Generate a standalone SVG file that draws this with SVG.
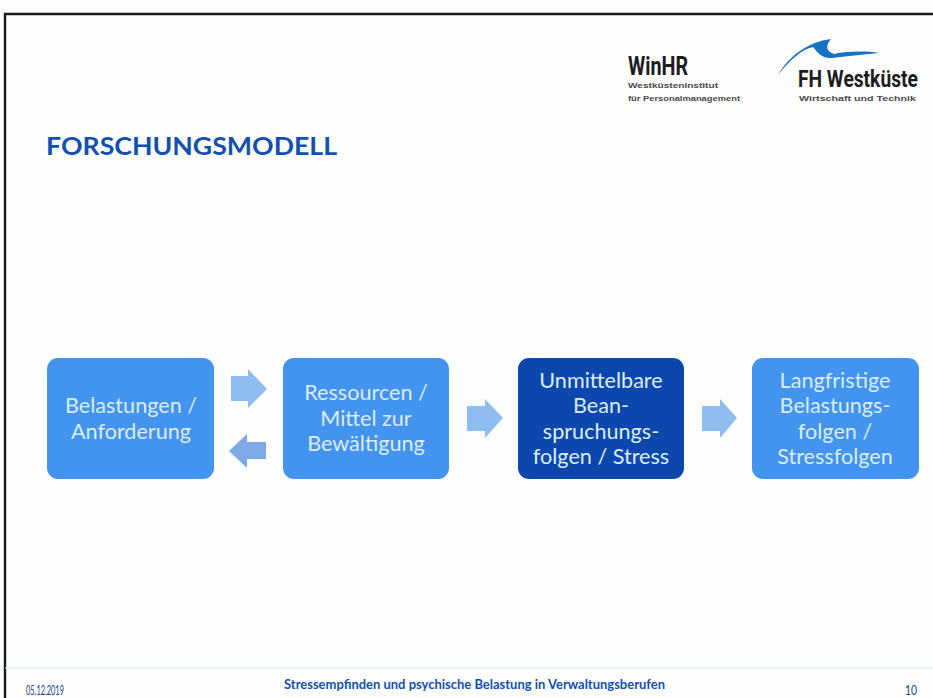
<svg xmlns="http://www.w3.org/2000/svg" width="933" height="698" viewBox="0 0 933 698">
<style>
.b{fill:#4394ee}
.d{fill:#0b47ad}
.t{font-family:Lato,"Open Sans",sans-serif;font-size:21.6px;fill:#dcecfb;text-anchor:middle}
.a{fill:#8fbcef}
.s{font-family:"Liberation Sans",sans-serif;font-size:7.4px;font-weight:700;fill:#4a4a4a}
.l{font-family:Roboto,sans-serif;font-weight:700;fill:#1c1c1c}
.f{font-family:Lato,sans-serif;font-size:12.5px;fill:#12458f}
</style>
<rect width="933" height="698" fill="#fdfdfd"/>
<path d="M5 698V14H933" fill="none" stroke="#1a1a1a" stroke-width="2.4"/>
<g id="logos">
<text class="l" x="628" y="75" font-size="26" textLength="60" lengthAdjust="spacingAndGlyphs">WinHR</text>
<text class="s" x="628" y="88" textLength="90" lengthAdjust="spacingAndGlyphs">Westküsteninstitut</text>
<text class="s" x="628" y="101" textLength="112" lengthAdjust="spacingAndGlyphs">für Personalmanagement</text>
<path d="M778 75C790 55 808 42 831 39C825 46 826 51 834 54C848 51 866 51 879 53C862 55 846 56 832 58C822 59 817 52 813 47C802 49 790 60 778 75Z" fill="#1572c4"/>
<text class="l" transform="translate(798 87) scale(.875 1)" font-size="24" textLength="137" lengthAdjust="spacingAndGlyphs">FH Westküste</text>
<text class="s" x="799" y="101" textLength="117" lengthAdjust="spacingAndGlyphs">Wirtschaft und Technik</text>
</g>
<text id="title" x="46" y="155" font-family="Lato,sans-serif" font-weight="700" font-size="25" fill="#1150b0" textLength="291" lengthAdjust="spacingAndGlyphs">FORSCHUNGSMODELL</text>
<g id="connectors">
<path class="a" d="M231 376H248V369L267 389L248 408V401H231Z"/>
<path d="M266 442H247V434L229 451L247 468V459H266Z" fill="#7ea9e6"/>
<path class="a" d="M467 406H485V399L503 418L485 438V431H467Z"/>
<path class="a" d="M702 406H720V399L737 418L720 438V431H702Z"/>
</g>
<g id="n1"><rect class="b" x="47" y="358" width="167" height="121" rx="11"/>
<text class="t" x="131" y="413">Belastungen /</text><text class="t" x="131" y="439">Anforderung</text></g>
<g id="n2"><rect class="b" x="283" y="358" width="166" height="121" rx="11"/>
<text class="t" x="366" y="400">Ressourcen /</text><text class="t" x="366" y="426">Mittel zur</text><text class="t" x="366" y="451">Bewältigung</text></g>
<g id="n3"><rect class="d" x="518" y="358" width="166" height="121" rx="11"/>
<text class="t" x="601" y="388">Unmittelbare</text><text class="t" x="601" y="413">Bean-</text><text class="t" x="601" y="439">spruchungs-</text><text class="t" x="601" y="464">folgen / Stress</text></g>
<g id="n4"><rect class="b" x="752" y="358" width="167" height="121" rx="11"/>
<text class="t" x="835" y="388">Langfristige</text><text class="t" x="835" y="413">Belastungs-</text><text class="t" x="835" y="439">folgen /</text><text class="t" x="835" y="464">Stressfolgen</text></g>
<g id="footer">
<line x1="5" y1="668" x2="933" y2="668" stroke="#cfe6f7" stroke-width="1"/>
<text class="f" x="26" y="695" textLength="38" lengthAdjust="spacingAndGlyphs">05.12.2019</text>
<text class="f" x="284" y="689" font-weight="700" style="fill:#1150b0" textLength="381" lengthAdjust="spacingAndGlyphs">Stressempfinden und psychische Belastung in Verwaltungsberufen</text>
<text class="f" x="905" y="695" textLength="12" lengthAdjust="spacingAndGlyphs">10</text>
</g>
</svg>
